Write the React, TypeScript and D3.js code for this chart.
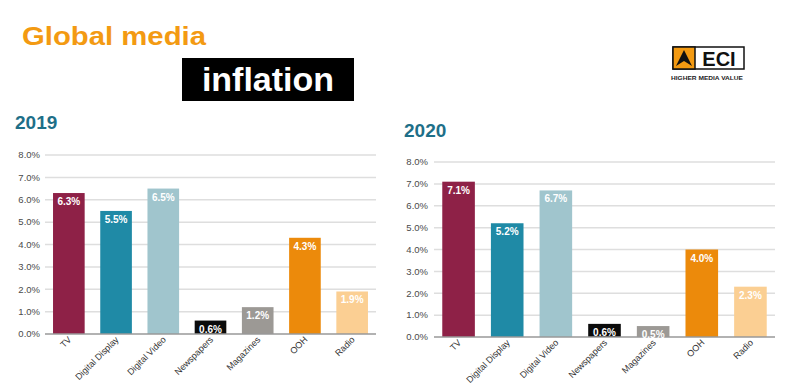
import { useEffect, useRef } from 'react';
import * as d3 from 'd3';

const CATEGORIES = ['TV', 'Digital Display', 'Digital Video', 'Newspapers', 'Magazines', 'OOH', 'Radio'];
const VALUES_2019 = [6.3, 5.5, 6.5, 0.6, 1.2, 4.3, 1.9];
const VALUES_2020 = [7.1, 5.2, 6.7, 0.6, 0.5, 4.0, 2.3];
const Y_TICKS = [0, 1, 2, 3, 4, 5, 6, 7, 8];
const BAR_COLORS = ['#8e2147', '#1f8aa6', '#a0c5cd', '#0b0b0b', '#9c9995', '#ec8a0b', '#fbcf93'];

const FONT = 'Liberation Sans, Arial, Helvetica, sans-serif';

interface PanelConfig {
  values: number[];
  year: string;
  yearX: number;
  yearY: number;
  x0: number;
  x1: number;
  yBase: number;
  yTop: number;
  labelX: number;
}

const PANELS: PanelConfig[] = [
  { values: VALUES_2019, year: '2019', yearX: 15, yearY: 129, x0: 45, x1: 376, yBase: 334, yTop: 155, labelX: 40 },
  { values: VALUES_2020, year: '2020', yearX: 404, yearY: 137, x0: 434, x1: 775, yBase: 337, yTop: 162, labelX: 428 },
];

export default function App() {
  const svgRef = useRef<SVGSVGElement>(null);

  useEffect(() => {
    if (!svgRef.current) return;
    const svg = d3.select(svgRef.current);
    svg.selectAll('*').remove();

    svg.append('rect').attr('width', 800).attr('height', 386).attr('fill', '#fff');

    // Titles
    svg.append('text')
      .attr('x', 22).attr('y', 45)
      .attr('font-family', FONT).attr('font-weight', 'bold').attr('font-size', 26)
      .attr('textLength', 184).attr('lengthAdjust', 'spacingAndGlyphs')
      .attr('fill', '#f39a12')
      .text('Global media');

    svg.append('rect').attr('x', 182).attr('y', 58).attr('width', 172).attr('height', 43).attr('fill', '#000');
    svg.append('text')
      .attr('x', 268).attr('y', 91)
      .attr('text-anchor', 'middle')
      .attr('font-family', FONT).attr('font-weight', 'bold').attr('font-size', 34)
      .attr('fill', '#fff')
      .text('inflation');

    // Logo
    const logo = svg.append('g');
    logo.append('rect').attr('x', 673).attr('y', 47).attr('width', 71).attr('height', 22)
      .attr('fill', '#fff').attr('stroke', '#111').attr('stroke-width', 1.5);
    logo.append('rect').attr('x', 673).attr('y', 47).attr('width', 22).attr('height', 22).attr('fill', '#f39a12')
      .attr('stroke', '#111').attr('stroke-width', 1.5);
    logo.append('path').attr('d', 'M684,50 L692,66 L684,61 L676,66 Z').attr('fill', '#111');
    logo.append('text').attr('x', 719).attr('y', 66).attr('text-anchor', 'middle')
      .attr('font-family', FONT).attr('font-weight', 'bold').attr('font-size', 20).attr('fill', '#111')
      .text('ECI');
    logo.append('text').attr('x', 707).attr('y', 80).attr('text-anchor', 'middle')
      .attr('font-family', FONT).attr('font-weight', 'bold').attr('font-size', 6)
      .attr('textLength', 72).attr('lengthAdjust', 'spacingAndGlyphs').attr('fill', '#222')
      .text('HIGHER MEDIA VALUE');

    PANELS.forEach(p => {
      const g = svg.append('g');
      const x = d3.scaleBand<string>().domain(CATEGORIES).range([p.x0, p.x1]).paddingInner(0.33).paddingOuter(0.17);
      const y = d3.scaleLinear().domain([0, 8]).range([p.yBase, p.yTop]);

      g.append('text')
        .attr('x', p.yearX).attr('y', p.yearY)
        .attr('font-family', FONT).attr('font-weight', 'bold').attr('font-size', 19)
        .attr('fill', '#1e6f88')
        .text(p.year);

      g.selectAll('.grid').data(Y_TICKS.slice(1)).enter().append('line')
        .attr('x1', p.x0).attr('x2', p.x1)
        .attr('y1', d => y(d)).attr('y2', d => y(d))
        .attr('stroke', '#dedede').attr('stroke-width', 1.5);

      g.selectAll('.ylab').data(Y_TICKS).enter().append('text')
        .attr('x', p.labelX).attr('y', d => y(d)).attr('dy', '0.35em')
        .attr('text-anchor', 'end')
        .attr('font-family', FONT).attr('font-size', 9.5).attr('fill', '#4a4a4a')
        .text(d => d3.format('.1f')(d) + '%');

      g.selectAll('.bar').data(p.values).enter().append('rect')
        .attr('x', (_d, i) => x(CATEGORIES[i])!)
        .attr('width', x.bandwidth())
        .attr('y', d => y(d))
        .attr('height', d => y(0) - y(d))
        .attr('fill', (_d, i) => BAR_COLORS[i]);

      g.append('line')
        .attr('x1', p.x0).attr('x2', p.x1)
        .attr('y1', y(0)).attr('y2', y(0))
        .attr('stroke', '#999').attr('stroke-width', 1.5);

      g.selectAll('.vlab').data(p.values).enter().append('text')
        .attr('x', (_d, i) => x(CATEGORIES[i])! + x.bandwidth() / 2)
        .attr('y', d => y(d) + 12)
        .attr('text-anchor', 'middle')
        .attr('font-family', FONT).attr('font-weight', 'bold').attr('font-size', 10)
        .attr('fill', '#fff')
        .text(d => d3.format('.1f')(d) + '%');

      g.selectAll('.xlab').data(CATEGORIES).enter().append('text')
        .attr('transform', d => `translate(${x(d)! + x.bandwidth() / 2 + 1},${y(0) + 4}) rotate(-45)`)
        .attr('text-anchor', 'end')
        .attr('dy', '0.35em')
        .attr('font-family', FONT).attr('font-size', 9).attr('fill', '#333')
        .text(d => d);
    });
  }, []);

  return (
    <svg ref={svgRef} width={800} height={386} style={{ position: 'absolute', left: 0, top: 0 }} />
  );
}
